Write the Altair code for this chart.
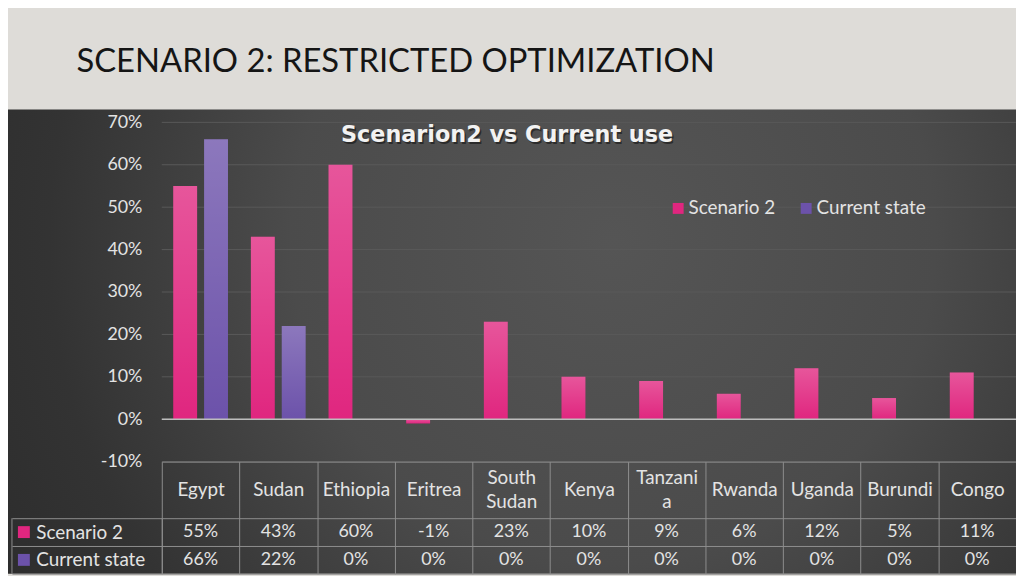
import altair as alt
import pandas as pd

# ---------------- data ----------------
countries = ["Egypt", "Sudan", "Ethiopia", "Eritrea", "South Sudan", "Kenya",
             "Tanzania", "Rwanda", "Uganda", "Burundi", "Congo"]
scenario2 = [55, 43, 60, -1, 23, 10, 9, 6, 12, 5, 11]
current_state = [66, 22, 0, 0, 0, 0, 0, 0, 0, 0, 0]
series_names = ["Scenario 2", "Current state"]
y_ticks = [-10, 0, 10, 20, 30, 40, 50, 60, 70]
slide_title = "SCENARIO 2: RESTRICTED OPTIMIZATION"
chart_title = "Scenarion2 vs Current use"

rows = []
for s, vals in zip(series_names, [scenario2, current_state]):
    for c, v in zip(countries, vals):
        rows.append({"country": c, "series": s, "value": v, "label": f"{v}%"})
df = pd.DataFrame(rows)
ticks_df = pd.DataFrame({"value": y_ticks})
series_df = pd.DataFrame({"series": series_names})
one = pd.DataFrame({"d": [0]})

# ---------------- style ----------------
FONT = "Lato"
W, H = 861, 342
PINK, PURPLE = "#e0267f", "#6c52aa"
BORDER = "#8e8e8e"
GRID = "#595959"
ZERO = "#bdbdbd"
TEXT = "#e3e3e3"
HEADER = "#dedcd8"
WORD_SIZE = 19
NUM_SIZE = 18

xscale = alt.Scale(domain=countries, paddingInner=0, paddingOuter=0)
offscale = alt.Scale(domain=series_names, paddingInner=0.226, paddingOuter=0.371)
yscale = alt.Scale(domain=[-10, 70], nice=False, zero=False)
tscale = alt.Scale(domain=series_names, range=[399, 455], paddingInner=0, paddingOuter=0)
cscale = alt.Scale(domain=series_names, range=[PINK, PURPLE])

WRAP_TEST = "datum.label == 'South Sudan' || datum.label == 'Tanzania'"
xaxis = alt.Axis(
    orient="bottom", title=None, domain=True, domainColor=BORDER, domainWidth=1,
    ticks=True, tickBand="extent", tickSize=113, tickColor=BORDER, tickWidth=1,
    labelPadding=-85,
    labelBaseline={"condition": {"test": WRAP_TEST, "value": "line-bottom"},
                   "value": "middle"},
    labelAngle=0, labelFont=FONT,
    labelFontSize=WORD_SIZE, labelColor=TEXT, labelLineHeight=24, labelLimit=300,
    labelExpr="datum.label == 'South Sudan' ? ['South', 'Sudan'] : "
              "(datum.label == 'Tanzania' ? ['Tanzani', 'a'] : datum.label)",
    grid=False, zindex=1)
yaxis = alt.Axis(
    orient="left", title=None, values=y_ticks, labelExpr="datum.value + '%'",
    ticks=False, domain=False, grid=False, labelPadding=20, labelFont=FONT,
    labelFontSize=NUM_SIZE, labelColor=TEXT, zindex=1)
taxis = alt.Axis(
    orient="left", title=None, domain=True, domainColor=BORDER, ticks=True,
    tickBand="extent", tickSize=151, tickColor=BORDER, grid=True, gridColor=BORDER,
    gridOpacity=1, labelAlign="left", labelPadding=-24, labelFont=FONT,
    labelFontSize=WORD_SIZE, labelColor=TEXT, zindex=1)
legend = alt.Legend(
    orient="none", legendX=511, legendY=77, direction="horizontal", title=None,
    symbolType="square", symbolSize=121, symbolStrokeWidth=0, symbolOpacity=1,
    labelFont=FONT, labelFontSize=WORD_SIZE, labelColor=TEXT, columnPadding=21,
    labelOffset=1)

xenc = alt.X("country:N", scale=xscale, axis=xaxis, title=None)
yenc = alt.Y("value:Q", scale=yscale, axis=yaxis, title=None)
tenc = alt.Y("series:N", scale=tscale, axis=taxis, title=None)
offenc = alt.XOffset("series:N", scale=offscale)

bg_grad = alt.RadialGradient(
    gradient="radial", x1=0.6, y1=0.4, r1=0, x2=0.6, y2=0.4, r2=0.8,
    stops=[alt.GradientStop(offset=0, color="#555555"),
           alt.GradientStop(offset=0.4, color="#4b4b4b"),
           alt.GradientStop(offset=0.7, color="#333333"),
           alt.GradientStop(offset=1, color="#282828")])
bar_grad = alt.LinearGradient(
    gradient="linear", x1=0, y1=0, x2=0, y2=1,
    stops=[alt.GradientStop(offset=0, color="rgba(255,255,255,0.22)"),
           alt.GradientStop(offset=1, color="rgba(255,255,255,0)")])

# ---------------- layers ----------------
bg = alt.Chart(one).mark_rect(fill=bg_grad).encode(
    x=alt.value(-155), x2=alt.value(W), y=alt.value(-13), y2=alt.value(H + 113))

title1 = alt.Chart(one).mark_text(
    text=slide_title, font=FONT, fontSize=33, color="#151515",
    align="left", baseline="alphabetic").encode(x=alt.value(-86), y=alt.value(-51))

title2_shadow = alt.Chart(one).mark_text(
    text=chart_title, font="DejaVu Sans", fontSize=22.5, fontWeight="bold",
    color="#000000", opacity=0.45, align="center", baseline="alphabetic",
    dx=1.5, dy=1.5).encode(x=alt.value(348), y=alt.value(20))
title2 = alt.Chart(one).mark_text(
    text=chart_title, font="DejaVu Sans", fontSize=22.5, fontWeight="bold",
    color="#f2f2f2", align="center", baseline="alphabetic").encode(
    x=alt.value(348), y=alt.value(20))

gridrules = alt.Chart(ticks_df).mark_rule(color=GRID, strokeWidth=1).encode(y=yenc)
bars = alt.Chart(df).mark_bar().encode(
    x=xenc, xOffset=offenc, y=yenc,
    color=alt.Color("series:N", scale=cscale, legend=legend, title=None))
shine = alt.Chart(df).mark_bar(fill=bar_grad).encode(x=xenc, xOffset=offenc, y=yenc)
zero = alt.Chart(one).mark_rule(color=ZERO, strokeWidth=1.5).encode(y=alt.datum(0))
bar_layer = alt.layer(gridrules, bars, shine, zero)

cells = alt.Chart(df).mark_text(font=FONT, fontSize=NUM_SIZE, color=TEXT).encode(
    x=xenc, y=tenc, text="label:N")
squares = alt.Chart(series_df).mark_square(size=144, opacity=1).encode(
    x=alt.value(-139), y=tenc,
    color=alt.Color("series:N", scale=cscale, legend=legend, title=None))
table_layer = alt.layer(cells, squares)

left_border = alt.Chart(one).mark_rule(color=BORDER, strokeWidth=1).encode(
    x=alt.value(-151), y=alt.value(399), y2=alt.value(455))

chart = alt.layer(bg, title1, title2_shadow, title2, bar_layer, table_layer,
                  left_border).resolve_scale(
    y="independent"
).properties(
    width=W, height=H,
    autosize=alt.AutoSizeParams(type="none"),
    padding={"left": 155, "top": 113, "right": 0, "bottom": 113},
).configure(background=HEADER, font=FONT).configure_view(stroke="transparent")

chart.save("out.html", embed_options={"renderer": "svg", "actions": False})
